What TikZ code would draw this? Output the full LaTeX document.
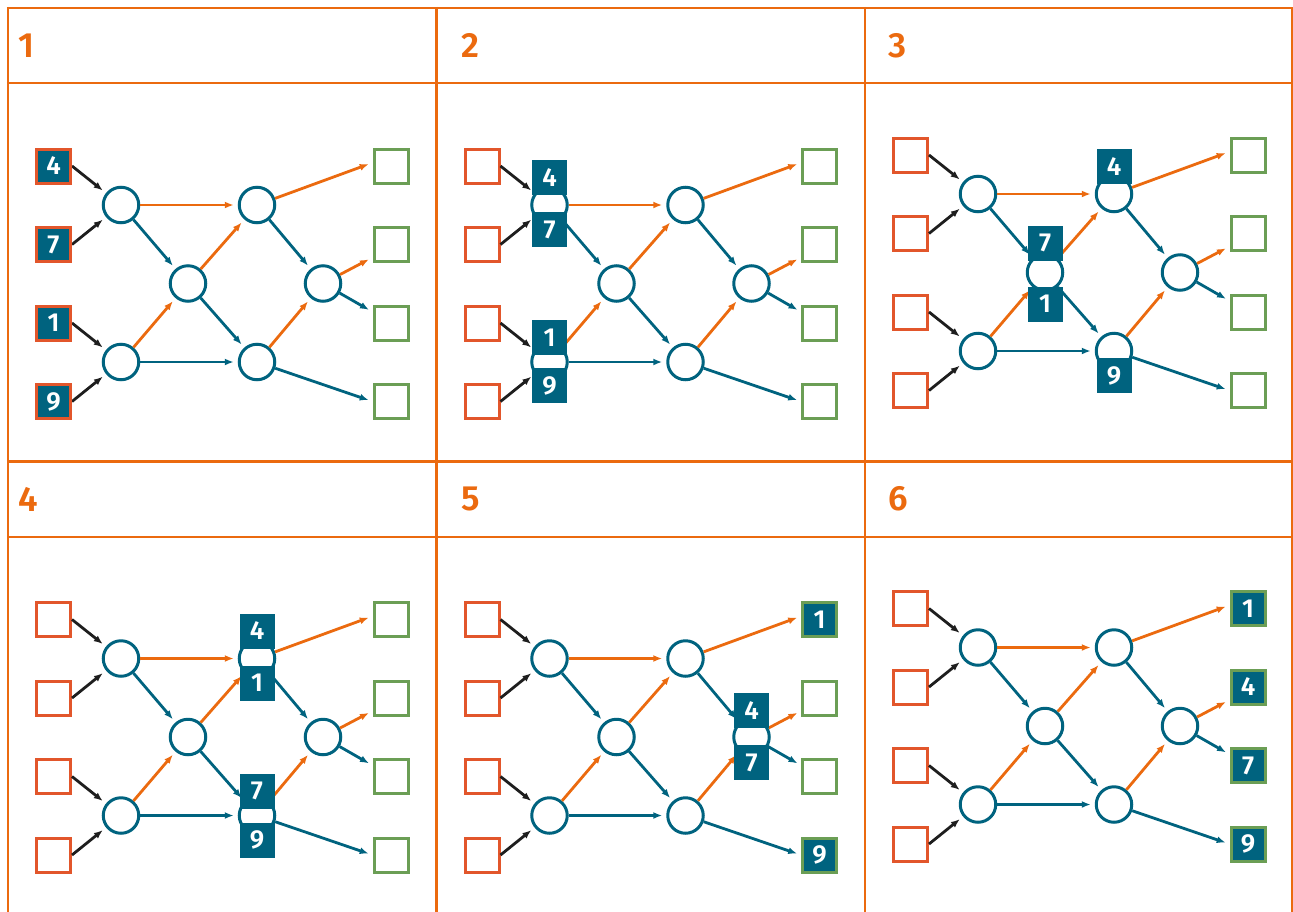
\documentclass[tikz,border=0pt]{standalone}
\usepackage{fontspec}
\setmainfont{Fira Sans}
\IfFontExistsTF{Fira Sans SemiBold}
  {\newfontfamily\numfamily{Fira Sans SemiBold}}
  {\newfontfamily\numfamily[FakeBold=0]{Fira Sans Bold}}
\usetikzlibrary{arrows.meta,positioning}
\definecolor{gridorange}{HTML}{EB6A0F}
\definecolor{petrol}{HTML}{00637F}
\definecolor{brick}{HTML}{E2562B}
\definecolor{leaf}{HTML}{6B9E55}
\definecolor{ink}{HTML}{1E1E1E}
\newcommand{\valfont}{\fontsize{26}{26}\selectfont\numfamily}
\newcommand{\headfont}{\fontsize{35}{35}\selectfont\numfamily}
\tikzset{
  gridline/.style={draw=gridorange,line width=2.5pt},
  panelno/.style={anchor=west,inner sep=0pt,text=gridorange,font=\headfont},
  srcbox/.style={rectangle,draw=brick,fill=white,line width=3pt,minimum size=34pt,inner sep=0pt},
  sinkbox/.style={srcbox,draw=leaf},
  hub/.style={circle,draw=petrol,fill=white,line width=3pt,minimum size=35.5pt,inner sep=0pt},
  filled/.style={fill=petrol,text=white,font=\valfont},
  token/.style={rectangle,fill=petrol,minimum size=35pt,inner sep=0pt,outer sep=0pt,text=white,font=\valfont},
  feed/.style={-{Latex[length=9pt,width=7pt]},line width=2.8pt,shorten >=4pt},
  inkfeed/.style={feed,draw=ink},
  hotfeed/.style={feed,draw=gridorange},
  coolfeed/.style={feed,draw=petrol}
}
% one network: #1 name prefix, #2 #3 top left corner of the panel
\newcommand{\panelnet}[3]{%
\begin{scope}[shift={(#2,#3)}]
  \foreach \k/\yy in {1/158,2/236.5,3/315,4/393.5}{
    \node[srcbox] (#1i\k) at (45.5,\yy) {};
    \node[sinkbox] (#1o\k) at (383,\yy) {};
  }
  \node[hub] (#1c1) at (113,197) {};
  \node[hub] (#1c2) at (113,354) {};
  \node[hub] (#1c3) at (180,275.5) {};
  \node[hub] (#1c4) at (249,197) {};
  \node[hub] (#1c5) at (249,354) {};
  \node[hub] (#1c6) at (315,275.5) {};
  \draw[inkfeed] (#1i1.east) -- (#1c1);
  \draw[inkfeed] (#1i2.east) -- (#1c1);
  \draw[inkfeed] (#1i3.east) -- (#1c2);
  \draw[inkfeed] (#1i4.east) -- (#1c2);
  \draw[hotfeed] (#1c1) -- (#1c4);
  \draw[hotfeed] (#1c2) -- (#1c3);
  \draw[hotfeed] (#1c3) -- (#1c4);
  \draw[hotfeed] (#1c5) -- (#1c6);
  \draw[hotfeed] (#1c4) -- (#1o1.170);
  \draw[hotfeed] (#1c6) -- (#1o2.215);
  \draw[coolfeed] (#1c1) -- (#1c3);
  \draw[coolfeed] (#1c2) -- (#1c5);
  \draw[coolfeed] (#1c3) -- (#1c5);
  \draw[coolfeed] (#1c4) -- (#1c6);
  \draw[coolfeed] (#1c6) -- (#1o3.149);
  \draw[coolfeed] (#1c5) -- (#1o4.west);
\end{scope}}
\begin{document}
\begin{tikzpicture}[x=1pt,y=-1pt]
\clip (0,0) rectangle (1293,911);
% grid of the six panels
\foreach \gx in {8,436.5,865,1292.5} \draw[gridline] (\gx,6.75) -- (\gx,930);
\foreach \gy in {8,83,461.5,537} \draw[gridline] (6.75,\gy) -- (1300,\gy);
\node[panelno] (h1) at (18,45.5) {1};
\node[panelno] (h2) at (461,45.5) {2};
\node[panelno] (h3) at (888,45.5) {3};
\node[panelno] (h4) at (18,499) {4};
\node[panelno] (h5) at (461,499) {5};
\node[panelno] (h6) at (888,499) {6};

\panelnet{p1}{8}{8}
\panelnet{p2}{436.5}{8}
\panelnet{p3}{865}{-3}
\panelnet{p4}{8}{461.5}
\panelnet{p5}{436.5}{461.5}
\panelnet{p6}{865}{450.5}

% panel 1: values wait at the inputs
\node[srcbox,filled] (p1v4) at (p1i1) {4};
\node[srcbox,filled] (p1v7) at (p1i2) {7};
\node[srcbox,filled] (p1v1) at (p1i3) {1};
\node[srcbox,filled] (p1v9) at (p1i4) {9};
% panel 2
\node[token,above=10pt of p2c1.center] (p2t4) {4};
\node[token,below=7pt of p2c1.center] (p2t7) {7};
\node[token,above=7pt of p2c2.center] (p2t1) {1};
\node[token,below=6pt of p2c2.center] (p2t9) {9};
% panel 3
\node[token,above=10pt of p3c4.center] (p3t4) {4};
\node[token,above=12pt of p3c3.center] (p3t7) {7};
\node[token,below=14pt of p3c3.center] (p3t1) {1};
\node[token,below=7pt of p3c5.center] (p3t9) {9};
% panel 4
\node[token,above=10pt of p4c4.center] (p4t4) {4};
\node[token,below=7pt of p4c4.center] (p4t1) {1};
\node[token,above=7pt of p4c5.center] (p4t7) {7};
\node[token,below=7pt of p4c5.center] (p4t9) {9};
% panel 5
\node[token,above=9pt of p5c6.center] (p5t4) {4};
\node[token,below=8pt of p5c6.center] (p5t7) {7};
\node[sinkbox,filled] (p5v1) at (p5o1) {1};
\node[sinkbox,filled] (p5v9) at (p5o4) {9};
% panel 6: sorted at the outputs
\node[sinkbox,filled] (p6v1) at (p6o1) {1};
\node[sinkbox,filled] (p6v4) at (p6o2) {4};
\node[sinkbox,filled] (p6v7) at (p6o3) {7};
\node[sinkbox,filled] (p6v9) at (p6o4) {9};
\end{tikzpicture}
\end{document}
